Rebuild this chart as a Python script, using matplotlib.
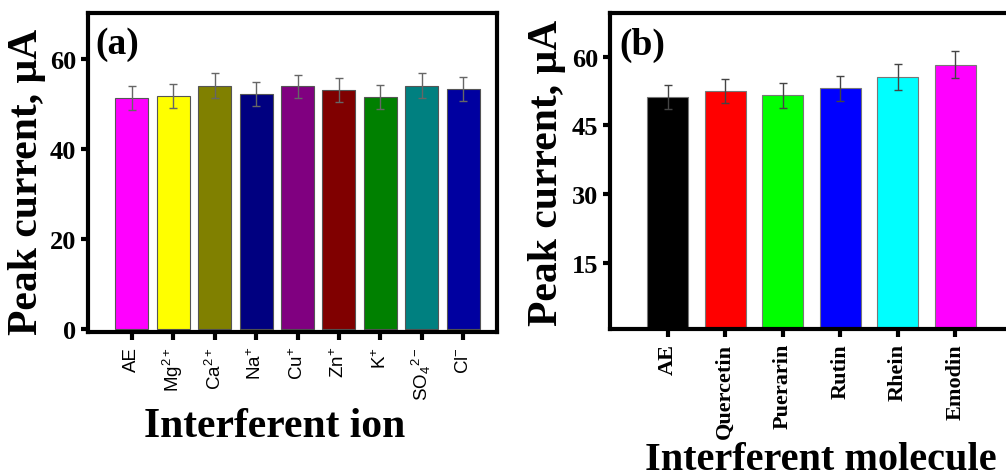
import matplotlib
matplotlib.use('Agg')
import matplotlib.pyplot as plt

plt.rcParams['font.family'] = 'Liberation Serif'
plt.rcParams['mathtext.fontset'] = 'custom'
plt.rcParams['mathtext.rm'] = 'Liberation Sans'
plt.rcParams['mathtext.it'] = 'Liberation Sans'

# (a) interferent ions
ions = ['AE', 'Mg$^{2+}$', 'Ca$^{2+}$', 'Na$^{+}$', 'Cu$^{+}$', 'Zn$^{+}$', 'K$^{+}$', 'SO$_4$$^{2-}$', 'Cl$^{-}$']
ion_current = [51.3, 51.7, 54.0, 52.2, 53.9, 53.1, 51.5, 54.0, 53.3]
ion_err = [2.6, 2.7, 2.8, 2.7, 2.6, 2.6, 2.7, 2.8, 2.6]
ion_colors = ['#FF00FF', '#FFFF00', '#808000', '#000080', '#800080',
              '#800000', '#008000', '#008080', '#0000A0']

# (b) interferent molecules
mols = ['AE', 'Quercetin', 'Puerarin', 'Rutin', 'Rhein', 'Emodin']
mol_current = [51.2, 52.6, 51.6, 53.1, 55.6, 58.3]
mol_err = [2.7, 2.6, 2.7, 2.7, 2.8, 3.0]
mol_colors = ['#000000', '#FF0000', '#00FF00', '#0000FF', '#00FFFF', '#FF00FF']

fig = plt.figure(figsize=(10.06, 4.77), dpi=100)
ax1 = fig.add_axes([0.0875, 0.302, 0.4066, 0.669])
ax2 = fig.add_axes([0.6064, 0.308, 0.4006, 0.663])


def style(ax):
    for s in ax.spines.values():
        s.set_linewidth(3)
    ax.tick_params(axis='both', direction='out', width=3, length=5)
    for lab in ax.get_yticklabels():
        lab.set_fontweight('bold')
        lab.set_fontsize(19)
    ax.set_ylabel('Peak current, μA', fontsize=30, fontweight='bold', va='center')


# panel a
x1 = range(len(ions))
ax1.bar(x1, ion_current, width=0.8, color=ion_colors, edgecolor='#555555', linewidth=0.8,
        yerr=ion_err, error_kw=dict(ecolor='#666666', elinewidth=1, capsize=3, capthick=1))
ax1.set_xlim(-1.06, 8.82)
ax1.set_ylim(-0.6, 70.2)
ax1.set_yticks([0, 20, 40, 60])
ax1.set_xticks(list(x1))
ax1.set_xticklabels(ions, rotation=90, fontsize=13.5, family='Liberation Sans')
style(ax1)
ax1.tick_params(axis='x', length=6, pad=4)
ax1.yaxis.set_label_coords(-0.148, 0.473)
ax1.set_xlabel('Interferent ion', fontsize=30, fontweight='bold', va='center')
ax1.xaxis.set_label_coords(0.457, -0.295)
ax1.text(0.017, 0.96, '(a)', transform=ax1.transAxes, fontsize=27, fontweight='bold',
         va='top', ha='left')

# panel b
x2 = range(len(mols))
ax2.bar(x2, mol_current, width=0.71, color=mol_colors, edgecolor='#777777', linewidth=0.8,
        yerr=mol_err, error_kw=dict(ecolor='#444444', elinewidth=1, capsize=3, capthick=1))
ax2.set_xlim(-1.0, 6.0)
ax2.set_ylim(0.5, 69.6)
ax2.set_yticks([15, 30, 45, 60])
ax2.set_xticks(list(x2))
ax2.set_xticklabels(mols, rotation=90, fontsize=16, fontweight='bold')
style(ax2)
ax2.tick_params(axis='x', length=6, pad=4)
ax2.yaxis.set_label_coords(-0.156, 0.497)
ax2.set_xlabel('Interferent molecule', fontsize=29, fontweight='bold', va='center')
ax2.xaxis.set_label_coords(0.524, -0.412)
ax2.text(0.022, 0.956, '(b)', transform=ax2.transAxes, fontsize=27, fontweight='bold',
         va='top', ha='left')

fig.savefig('out.png', dpi=100)
